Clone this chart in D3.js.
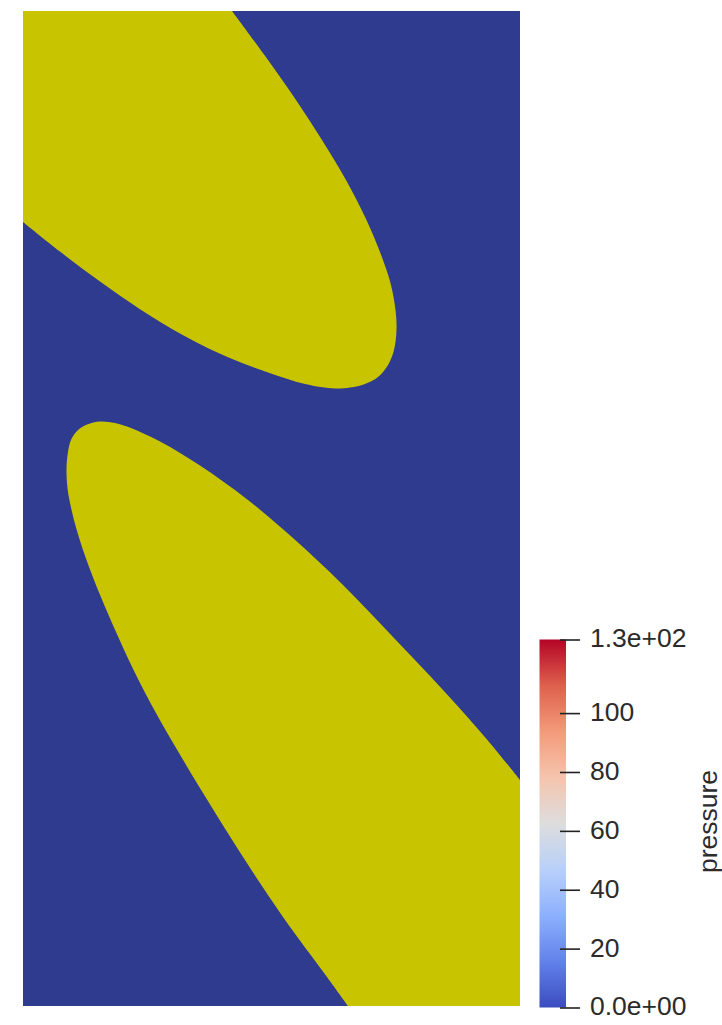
<!DOCTYPE html>
<html>
<head>
<meta charset="utf-8">
<script src="https://cdn.jsdelivr.net/npm/d3@7"></script>
<style>
  html, body { margin: 0; padding: 0; background: #ffffff; }
  svg { display: block; }
  text { font-family: "Liberation Sans", Arial, sans-serif; fill: #2b2b2b; }
</style>
</head>
<body>
<svg id="chart" width="722" height="1025"></svg>
<script>
// Domain of the slice: x in [0, 1], y in [0, 2]
const domainX = [0, 1];
const domainY = [0, 2];

// Interface of the upper phase region (clockwise, from the top edge to the left edge)
const upperBoundary = [
  [0.4205, 2.0000], [0.4930, 1.9015], [0.5493, 1.8211], [0.6016, 1.7407], [0.6499, 1.6603],
  [0.6911, 1.5799], [0.7243, 1.4995], [0.7404, 1.4492], [0.7495, 1.3990], [0.7515, 1.3588],
  [0.7465, 1.3186], [0.7344, 1.2884], [0.7143, 1.2643], [0.6881, 1.2503], [0.6579, 1.2432],
  [0.6278, 1.2412], [0.5674, 1.2503], [0.4930, 1.2734], [0.4125, 1.3039], [0.3260, 1.3463],
  [0.2354, 1.4006], [0.1549, 1.4561], [0.0744, 1.5164], [0.0000, 1.5759]
];
const upperCorners = [[0, 2]];

// Interface of the lower phase region (from the bottom edge, round the tip, to the right edge)
const lowerBoundary = [
  [0.6539, 0.0000], [0.6117, 0.0583], [0.5231, 0.1789], [0.4427, 0.2995], [0.3622, 0.4281],
  [0.3139, 0.5085], [0.2676, 0.5889], [0.2294, 0.6613], [0.1944, 0.7357], [0.1652, 0.8020],
  [0.1429, 0.8563], [0.1242, 0.9065], [0.1081, 0.9568], [0.0977, 0.9970], [0.0900, 1.0372],
  [0.0875, 1.0774], [0.0905, 1.1136], [0.0966, 1.1377], [0.1087, 1.1558], [0.1288, 1.1688],
  [0.1549, 1.1749], [0.1851, 1.1719], [0.2093, 1.1646], [0.2757, 1.1347], [0.3561, 1.0864],
  [0.4507, 1.0185], [0.5433, 0.9407], [0.6439, 0.8462], [0.7445, 0.7417], [0.8451, 0.6352],
  [0.9336, 0.5357], [1.0000, 0.4543]
];
const lowerCorners = [[1, 0]];

// Color legend: pressure range and ticks
const pressureRange = [0, 125];
const tickValues = [0, 20, 40, 60, 80, 100, 125];
const tickLabels = ["0.0e+00", "20", "40", "60", "80", "100", "1.3e+02"];
const legendTitle = "pressure";

// Cool to Warm color map control points
const coolWarmStops = [
  [0.000, "rgb(59,76,192)"], [0.125, "rgb(98,130,234)"], [0.250, "rgb(141,176,254)"],
  [0.375, "rgb(184,208,249)"], [0.500, "rgb(221,221,221)"], [0.625, "rgb(245,196,173)"],
  [0.750, "rgb(244,154,123)"], [0.875, "rgb(222,96,77)"], [1.000, "rgb(180,4,38)"]
];

const backgroundPhase = "#2e3b8e";
const dropletPhase = "#c9c400";

const svg = d3.select("#chart");

const x = d3.scaleLinear().domain(domainX).range([23, 520]);
const y = d3.scaleLinear().domain(domainY).range([1006, 11]);

const defs = svg.append("defs");
defs.append("clipPath").attr("id", "domainClip")
  .append("rect")
  .attr("x", x(domainX[0])).attr("y", y(domainY[1]))
  .attr("width", x(domainX[1]) - x(domainX[0]))
  .attr("height", y(domainY[0]) - y(domainY[1]));

const field = svg.append("g").attr("clip-path", "url(#domainClip)");

field.append("rect")
  .attr("x", x(domainX[0])).attr("y", y(domainY[1]))
  .attr("width", x(domainX[1]) - x(domainX[0]))
  .attr("height", y(domainY[0]) - y(domainY[1]))
  .attr("fill", backgroundPhase);

const smooth = d3.line()
  .x(d => x(d[0]))
  .y(d => y(d[1]))
  .curve(d3.curveCatmullRom.alpha(0.5));

function regionPath(boundary, corners) {
  return smooth(boundary) + corners.map(c => `L${x(c[0])},${y(c[1])}`).join("") + "Z";
}

field.selectAll("path.region")
  .data([[upperBoundary, upperCorners], [lowerBoundary, lowerCorners]])
  .join("path")
  .attr("class", "region")
  .attr("d", d => regionPath(d[0], d[1]))
  .attr("fill", dropletPhase);

// Color bar
const barX = 539.5, barW = 26.5;
const cy = d3.scaleLinear().domain(pressureRange).range([1007.5, 639.5]);

const grad = defs.append("linearGradient")
  .attr("id", "coolWarm")
  .attr("x1", 0).attr("y1", 1).attr("x2", 0).attr("y2", 0);
grad.selectAll("stop")
  .data(coolWarmStops)
  .join("stop")
  .attr("offset", d => d[0])
  .attr("stop-color", d => d[1]);

svg.append("rect")
  .attr("x", barX)
  .attr("y", cy(pressureRange[1]))
  .attr("width", barW)
  .attr("height", cy(pressureRange[0]) - cy(pressureRange[1]))
  .attr("fill", "url(#coolWarm)");

const axis = d3.axisRight(cy)
  .tickValues(tickValues)
  .tickFormat((d, i) => tickLabels[i])
  .tickSize(20)
  .tickPadding(10);

const axisG = svg.append("g")
  .attr("transform", `translate(560,0)`)
  .call(axis);
axisG.select(".domain").remove();
axisG.selectAll(".tick line").attr("stroke", "#222").attr("stroke-width", 1.6);
axisG.selectAll(".tick text")
  .attr("font-size", 26.5)
  .attr("fill", "#2b2b2b")
  .attr("dy", "0.28em")
  .style("font-family", "'Liberation Sans', Arial, sans-serif");

// Title centred along the color bar
const barMid = (cy(pressureRange[0]) + cy(pressureRange[1])) / 2 - 2;
svg.append("text")
  .attr("transform", `translate(717, ${barMid}) rotate(-90)`)
  .attr("text-anchor", "middle")
  .attr("font-size", 26.5)
  .text(legendTitle);
</script>
</body>
</html>
